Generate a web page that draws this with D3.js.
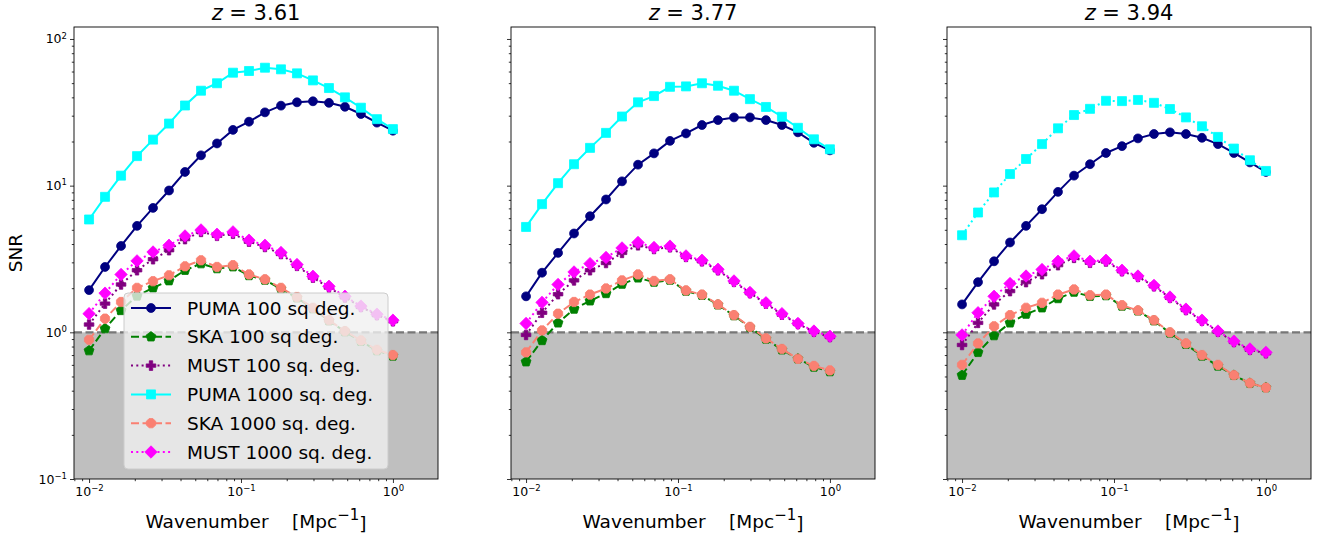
<!DOCTYPE html>
<html>
<head>
<meta charset="utf-8">
<script src="https://cdn.jsdelivr.net/npm/d3@7"></script>
<style>
  body { margin: 0; background: #fff; }
  svg { font-family: "DejaVu Sans", sans-serif; }
</style>
</head>
<body>
<div id="chart"></div>
<script>
// wavenumbers, logspace(-2, 0, 20)
var kValues = [0.01, 0.01274, 0.01624, 0.02069, 0.02637, 0.03360, 0.04281, 0.05456, 0.06952, 0.08859,
               0.1129, 0.1438, 0.1833, 0.2336, 0.2976, 0.3793, 0.4833, 0.6158, 0.7848, 1.0];

var redshifts = ["3.61", "3.77", "3.94"];

var seriesNames = ["PUMA 100 sq deg.", "SKA 100 sq deg.", "MUST 100 sq. deg.",
                   "PUMA 1000 sq. deg.", "SKA 1000 sq. deg.", "MUST 1000 sq. deg."];

// SNR per panel, one array per series
var puma100 = [
  [1.94, 2.79, 3.88, 5.32, 7.05, 9.27, 12.4, 16.1, 19.4, 24.0, 27.3, 31.6, 35.1, 37.0, 37.6, 36.7, 34.5, 30.8, 26.9, 23.7],
  [1.76, 2.55, 3.48, 4.72, 6.19, 8.05, 10.7, 13.9, 16.6, 20.2, 22.7, 25.9, 28.0, 29.2, 29.2, 28.0, 25.9, 23.1, 19.6, 17.4],
  [1.55, 2.20, 3.05, 4.10, 5.32, 6.91, 9.07, 11.7, 14.0, 16.7, 18.6, 21.0, 22.5, 23.1, 22.5, 21.2, 19.2, 16.7, 14.4, 12.4]
];
var ska100 = [
  [0.75, 1.06, 1.41, 1.77, 2.01, 2.25, 2.65, 2.94, 2.72, 2.80, 2.44, 2.27, 1.98, 1.72, 1.45, 1.20, 1.01, 0.87, 0.75, 0.69],
  [0.63, 0.88, 1.16, 1.44, 1.64, 1.84, 2.13, 2.35, 2.20, 2.27, 1.91, 1.79, 1.54, 1.30, 1.08, 0.90, 0.76, 0.66, 0.58, 0.54],
  [0.51, 0.73, 0.95, 1.16, 1.33, 1.47, 1.70, 1.88, 1.76, 1.78, 1.51, 1.40, 1.20, 0.99, 0.83, 0.69, 0.59, 0.51, 0.45, 0.42]
];
var must100 = [
  [1.13, 1.57, 2.12, 2.65, 3.15, 3.63, 4.32, 4.84, 4.55, 4.70, 4.15, 3.82, 3.42, 2.84, 2.36, 2.02, 1.73, 1.49, 1.31, 1.19],
  [0.96, 1.36, 1.82, 2.26, 2.65, 2.97, 3.48, 3.92, 3.70, 3.80, 3.27, 3.05, 2.65, 2.21, 1.85, 1.57, 1.32, 1.14, 1.01, 0.93],
  [0.82, 1.16, 1.55, 1.91, 2.20, 2.49, 2.87, 3.22, 2.98, 3.04, 2.61, 2.39, 2.06, 1.72, 1.42, 1.20, 1.01, 0.86, 0.76, 0.72]
];
var puma1000 = [
  [5.88, 8.39, 11.7, 15.9, 20.6, 26.5, 35.2, 44.4, 49.9, 58.9, 60.5, 63.7, 62.1, 58.3, 52.2, 46.3, 40.0, 34.0, 28.4, 24.3],
  [5.23, 7.48, 10.4, 14.0, 18.1, 22.9, 29.6, 37.0, 40.8, 47.2, 47.5, 49.9, 48.0, 44.4, 38.9, 34.4, 29.5, 24.8, 20.7, 17.7],
  [4.59, 6.56, 8.99, 12.0, 15.2, 19.2, 24.6, 30.3, 33.4, 37.9, 37.7, 38.4, 36.7, 33.3, 29.2, 25.4, 21.5, 17.9, 14.9, 12.6]
];
var ska1000 = [
  [0.89, 1.24, 1.61, 2.01, 2.23, 2.45, 2.82, 3.10, 2.79, 2.87, 2.48, 2.30, 2.01, 1.74, 1.47, 1.21, 1.02, 0.88, 0.76, 0.70],
  [0.73, 1.03, 1.34, 1.61, 1.81, 1.99, 2.26, 2.48, 2.24, 2.30, 1.93, 1.81, 1.55, 1.31, 1.09, 0.91, 0.77, 0.66, 0.59, 0.55],
  [0.60, 0.84, 1.10, 1.31, 1.47, 1.59, 1.81, 1.96, 1.79, 1.81, 1.53, 1.41, 1.21, 1.00, 0.84, 0.70, 0.60, 0.51, 0.45, 0.42]
];
var must1000 = [
  [1.34, 1.85, 2.48, 3.07, 3.53, 3.92, 4.54, 4.99, 4.66, 4.84, 4.25, 3.92, 3.50, 2.90, 2.41, 2.06, 1.76, 1.51, 1.33, 1.21],
  [1.15, 1.60, 2.12, 2.58, 2.94, 3.24, 3.76, 4.10, 3.79, 3.87, 3.32, 3.10, 2.69, 2.24, 1.87, 1.59, 1.34, 1.15, 1.02, 0.94],
  [0.96, 1.36, 1.76, 2.15, 2.42, 2.68, 3.05, 3.32, 3.05, 3.10, 2.65, 2.42, 2.09, 1.74, 1.44, 1.21, 1.02, 0.87, 0.77, 0.73]
];

var seriesData = [puma100, ska100, must100, puma1000, ska1000, must1000];
var seriesColors = ["#000080", "#008000", "#800080", "#00ffff", "#fa8072", "#ff00ff"];
var seriesMarkers = ["circle", "pentagon", "plus", "square", "octagon", "diamond"];
// line style per series, per panel
var seriesDash = [
  ["", "", ""],
  ["8,3.5", "8,3.5", "8,3.5"],
  ["2,3.3", "2,3.3", "2,3.3"],
  ["", "", "2,3.3"],
  ["8,3.5", "8,3.5", "8,3.5"],
  ["2,3.3", "2,3.3", "2,3.3"]
];

var width = 1325, height = 537;
var panelLeft = [74, 511, 947], panelTop = 27, panelW = 364, panelH = 452;

var svg = d3.select("#chart").append("svg")
  .attr("width", width).attr("height", height);

var x = d3.scaleLog().domain([0.00796, 1.98]).range([0, panelW]);
var y = d3.scaleLog().domain([0.1, 120.7]).range([panelH, 0]);

function polygon(n, r, rot) {
  var pts = [];
  for (var i = 0; i < n; i++) {
    var a = rot + i * 2 * Math.PI / n;
    pts.push([r * Math.sin(a), -r * Math.cos(a)]);
  }
  return "M" + pts.map(function(p) { return p[0].toFixed(2) + "," + p[1].toFixed(2); }).join("L") + "Z";
}

function markerPath(kind) {
  if (kind == "circle") return d3.symbol().type(d3.symbolCircle).size(62)();
  if (kind == "square") return "M-4.5,-4.5L4.5,-4.5L4.5,4.5L-4.5,4.5Z";
  if (kind == "diamond") return polygon(4, 6.2, 0);
  if (kind == "pentagon") return polygon(5, 5.2, 0);
  if (kind == "octagon") return polygon(8, 5.0, Math.PI / 8);
  if (kind == "plus") {
    var a = 1.7, b = 4.8;
    return "M" + [[-a,-b],[a,-b],[a,-a],[b,-a],[b,a],[a,a],[a,b],[-a,b],[-a,a],[-b,a],[-b,-a],[-a,-a]]
      .map(function(p) { return p.join(","); }).join("L") + "Z";
  }
}

var supMinus = "\u2212";

function powerLabel(sel, d) {
  var e = Math.round(Math.log10(d));
  sel.text(null);
  sel.append("tspan").text("10");
  sel.append("tspan").attr("dy", "-0.55em").style("font-size", "8.5px")
    .text(e < 0 ? supMinus + (-e) : "" + e);
}

var majorX = [0.01, 0.1, 1];
var majorY = [0.1, 1, 10, 100];
var minorX = [], minorY = [];
[0.001, 0.01, 0.1, 1].forEach(function(p) {
  for (var m = 2; m <= 9; m++) {
    var v = m * p;
    if (v >= x.domain()[0] && v <= x.domain()[1]) minorX.push(v);
    if (v >= y.domain()[0] && v <= y.domain()[1]) minorY.push(v);
  }
});
[10, 100].forEach(function(p) {
  for (var m = 2; m <= 9; m++) {
    var v = m * p;
    if (v <= y.domain()[1]) minorY.push(v);
  }
});

var line = d3.line().x(function(d) { return x(d[0]); }).y(function(d) { return y(d[1]); });

redshifts.forEach(function(z, pi) {
  var g = svg.append("g").attr("transform", "translate(" + panelLeft[pi] + "," + panelTop + ")");

  g.append("clipPath").attr("id", "clip" + pi)
    .append("rect").attr("width", panelW).attr("height", panelH);

  // below SNR = 1
  g.append("rect")
    .attr("x", 0).attr("y", y(1))
    .attr("width", panelW).attr("height", y(0.1) - y(1))
    .attr("fill", "#bfbfbf");

  g.append("line")
    .attr("x1", 0).attr("x2", panelW)
    .attr("y1", y(1)).attr("y2", y(1))
    .attr("stroke", "#777").attr("stroke-width", 2.2)
    .attr("stroke-dasharray", "8,3.5");

  var plot = g.append("g").attr("clip-path", "url(#clip" + pi + ")");

  seriesData.forEach(function(s, si) {
    var pts = kValues.map(function(k, i) { return [k, s[pi][i]]; });
    plot.append("path")
      .datum(pts)
      .attr("d", line)
      .attr("fill", "none")
      .attr("stroke", seriesColors[si])
      .attr("stroke-width", 2)
      .attr("stroke-dasharray", seriesDash[si][pi] || null);
    plot.selectAll(".m" + si)
      .data(pts)
      .enter().append("path")
      .attr("class", "m" + si)
      .attr("transform", function(d) { return "translate(" + x(d[0]) + "," + y(d[1]) + ")"; })
      .attr("d", markerPath(seriesMarkers[si]))
      .attr("fill", seriesColors[si])
      .attr("stroke", seriesColors[si])
      .attr("stroke-width", 0.8);
  });

  // axes
  var xAxis = g.append("g").attr("transform", "translate(0," + panelH + ")")
    .call(d3.axisBottom(x).tickValues(majorX).tickSize(4).tickPadding(4));
  xAxis.selectAll(".tick text").each(function(d) { powerLabel(d3.select(this), d); });
  g.append("g").attr("transform", "translate(0," + panelH + ")")
    .call(d3.axisBottom(x).tickValues(minorX).tickSize(2.2).tickFormat(""));

  var yAxis = g.append("g")
    .call(d3.axisLeft(y).tickValues(majorY).tickSize(4).tickPadding(3));
  if (pi == 0) {
    yAxis.selectAll(".tick text").each(function(d) { powerLabel(d3.select(this), d); });
  } else {
    yAxis.selectAll(".tick text").remove();
  }
  g.append("g")
    .call(d3.axisLeft(y).tickValues(minorY).tickSize(2.2).tickFormat(""));

  g.selectAll(".domain").remove();
  g.selectAll(".tick text").attr("font-size", 12.5).attr("fill", "#000")
    .attr("font-family", "DejaVu Sans");
  g.selectAll(".tick line").attr("stroke", "#000").attr("stroke-width", 0.8);

  g.append("rect")
    .attr("width", panelW).attr("height", panelH)
    .attr("fill", "none").attr("stroke", "#000").attr("stroke-width", 0.9);

  // title
  var title = g.append("text")
    .attr("x", panelW / 2).attr("y", -7)
    .attr("text-anchor", "middle")
    .attr("font-size", 21);
  title.append("tspan").attr("font-style", "italic").text("z");
  title.append("tspan").text(" = " + z);

  // x label
  var xl = g.append("text")
    .attr("x", panelW / 2).attr("y", panelH + 49)
    .attr("text-anchor", "middle")
    .attr("font-size", 18.5)
    .style("white-space", "pre");
  xl.append("tspan").text("Wavenumber    [Mpc");
  xl.append("tspan").attr("dy", "-0.55em").attr("font-size", 15).text(supMinus + "1");
  xl.append("tspan").attr("dy", "0.55em").text("]");

  if (pi == 0) {
    g.append("text")
      .attr("transform", "translate(-52," + (panelH / 2) + ") rotate(-90)")
      .attr("text-anchor", "middle")
      .attr("font-size", 18.5)
      .text("SNR");

    // legend
    var lg = g.append("g").attr("transform", "translate(50,266)");
    lg.append("rect")
      .attr("width", 264).attr("height", 176)
      .attr("rx", 4)
      .attr("fill", "#f0f0f0").attr("fill-opacity", 0.8)
      .attr("stroke", "#cccccc").attr("stroke-width", 1);
    seriesNames.forEach(function(name, si) {
      var row = lg.append("g").attr("transform", "translate(0," + (15 + si * 28.8) + ")");
      row.append("line")
        .attr("x1", 7).attr("x2", 47)
        .attr("stroke", seriesColors[si]).attr("stroke-width", 2)
        .attr("stroke-dasharray", seriesDash[si][0] || null);
      row.append("path")
        .attr("transform", "translate(27,0)")
        .attr("d", markerPath(seriesMarkers[si]))
        .attr("fill", seriesColors[si]).attr("stroke", seriesColors[si]).attr("stroke-width", 0.8);
      row.append("text")
        .attr("x", 63).attr("y", 6.5)
        .attr("font-size", 18.5)
        .text(name);
    });
  }
});
</script>
</body>
</html>
